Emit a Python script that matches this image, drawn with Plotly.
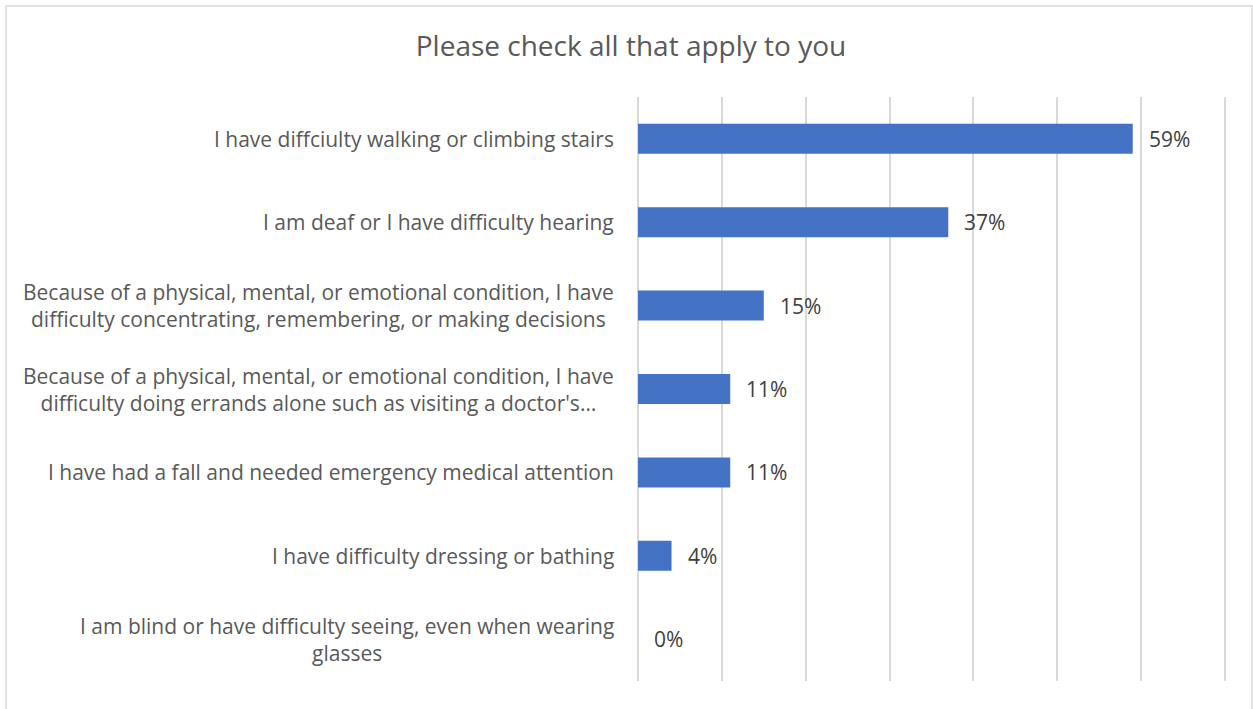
import plotly.graph_objects as go

categories = [
    "I have diffciulty walking or climbing stairs",
    "I am deaf or I have difficulty hearing",
    "Because of a physical, mental, or emotional condition, I have<br>difficulty concentrating, remembering, or making decisions",
    "Because of a physical, mental, or emotional condition, I have<br>difficulty doing errands alone such as visiting a doctor's…",
    "I have had a fall and needed emergency medical attention",
    "I have difficulty dressing or bathing",
    "I am blind or have difficulty seeing, even when wearing<br>glasses",
]
values = [59, 37, 15, 11, 11, 4, 0]
value_labels = ["59%", "37%", "15%", "11%", "11%", "4%", "0%"]

W, H = 1253, 709
L, R, T, B = 638, 24, 97, 28
pw, ph = W - L - R, H - T - B
# 70 % tombe à x=1225 px ; on élargit un peu la zone pour que la dernière grille s'affiche
x_max = 70 * pw / (1225 - L)

fig = go.Figure()
fig.add_trace(go.Bar(
    x=values,
    y=categories,
    orientation='h',
    marker=dict(color='#4472C4', line=dict(width=0)),
))

# étiquettes de catégorie (centrées ligne par ligne, comme dans Excel)
for cat in categories:
    fig.add_annotation(x=0, xref='paper', y=cat, text=cat, showarrow=False,
                       xanchor='right', xshift=-22, align='center',
                       font=dict(size=21, color='#595959'))

# étiquettes de valeur, décalées à droite de la barre
for cat, v, lab in zip(categories, values, value_labels):
    fig.add_annotation(x=v, y=cat, text=lab, showarrow=False,
                       xanchor='left', xshift=14,
                       font=dict(size=21, color='#404040'))

# cadre gris autour du graphique
fig.add_shape(
    type='rect', xref='paper', yref='paper',
    x0=(6 - L) / pw, x1=(1252 - L) / pw,
    y0=(H - B - 715) / ph, y1=(H - B - 6) / ph,
    line=dict(color='#d9d9d9', width=1.5),
)

fig.update_layout(
    width=W, height=H,
    margin=dict(l=L, r=R, t=T, b=B),
    paper_bgcolor='white',
    plot_bgcolor='white',
    font=dict(family='Open Sans', color='#595959'),
    title=dict(text="Please check all that apply to you",
               x=631 / W, xanchor='center', y=1 - 46 / H, yanchor='middle',
               font=dict(size=28, color='#595959')),
    bargap=0.64,
    showlegend=False,
    xaxis=dict(range=[0, x_max], dtick=10, showgrid=True, gridcolor='#d9d9d9',
               gridwidth=1.5, showticklabels=False, zeroline=True,
               zerolinecolor='#d9d9d9', zerolinewidth=1.5, showline=False),
    yaxis=dict(autorange='reversed', showgrid=False, showline=False,
               ticks='', showticklabels=False),
)

fig.write_html("out.html", config={'displayModeBar': False},
               post_script="document.body.style.margin='0';")
